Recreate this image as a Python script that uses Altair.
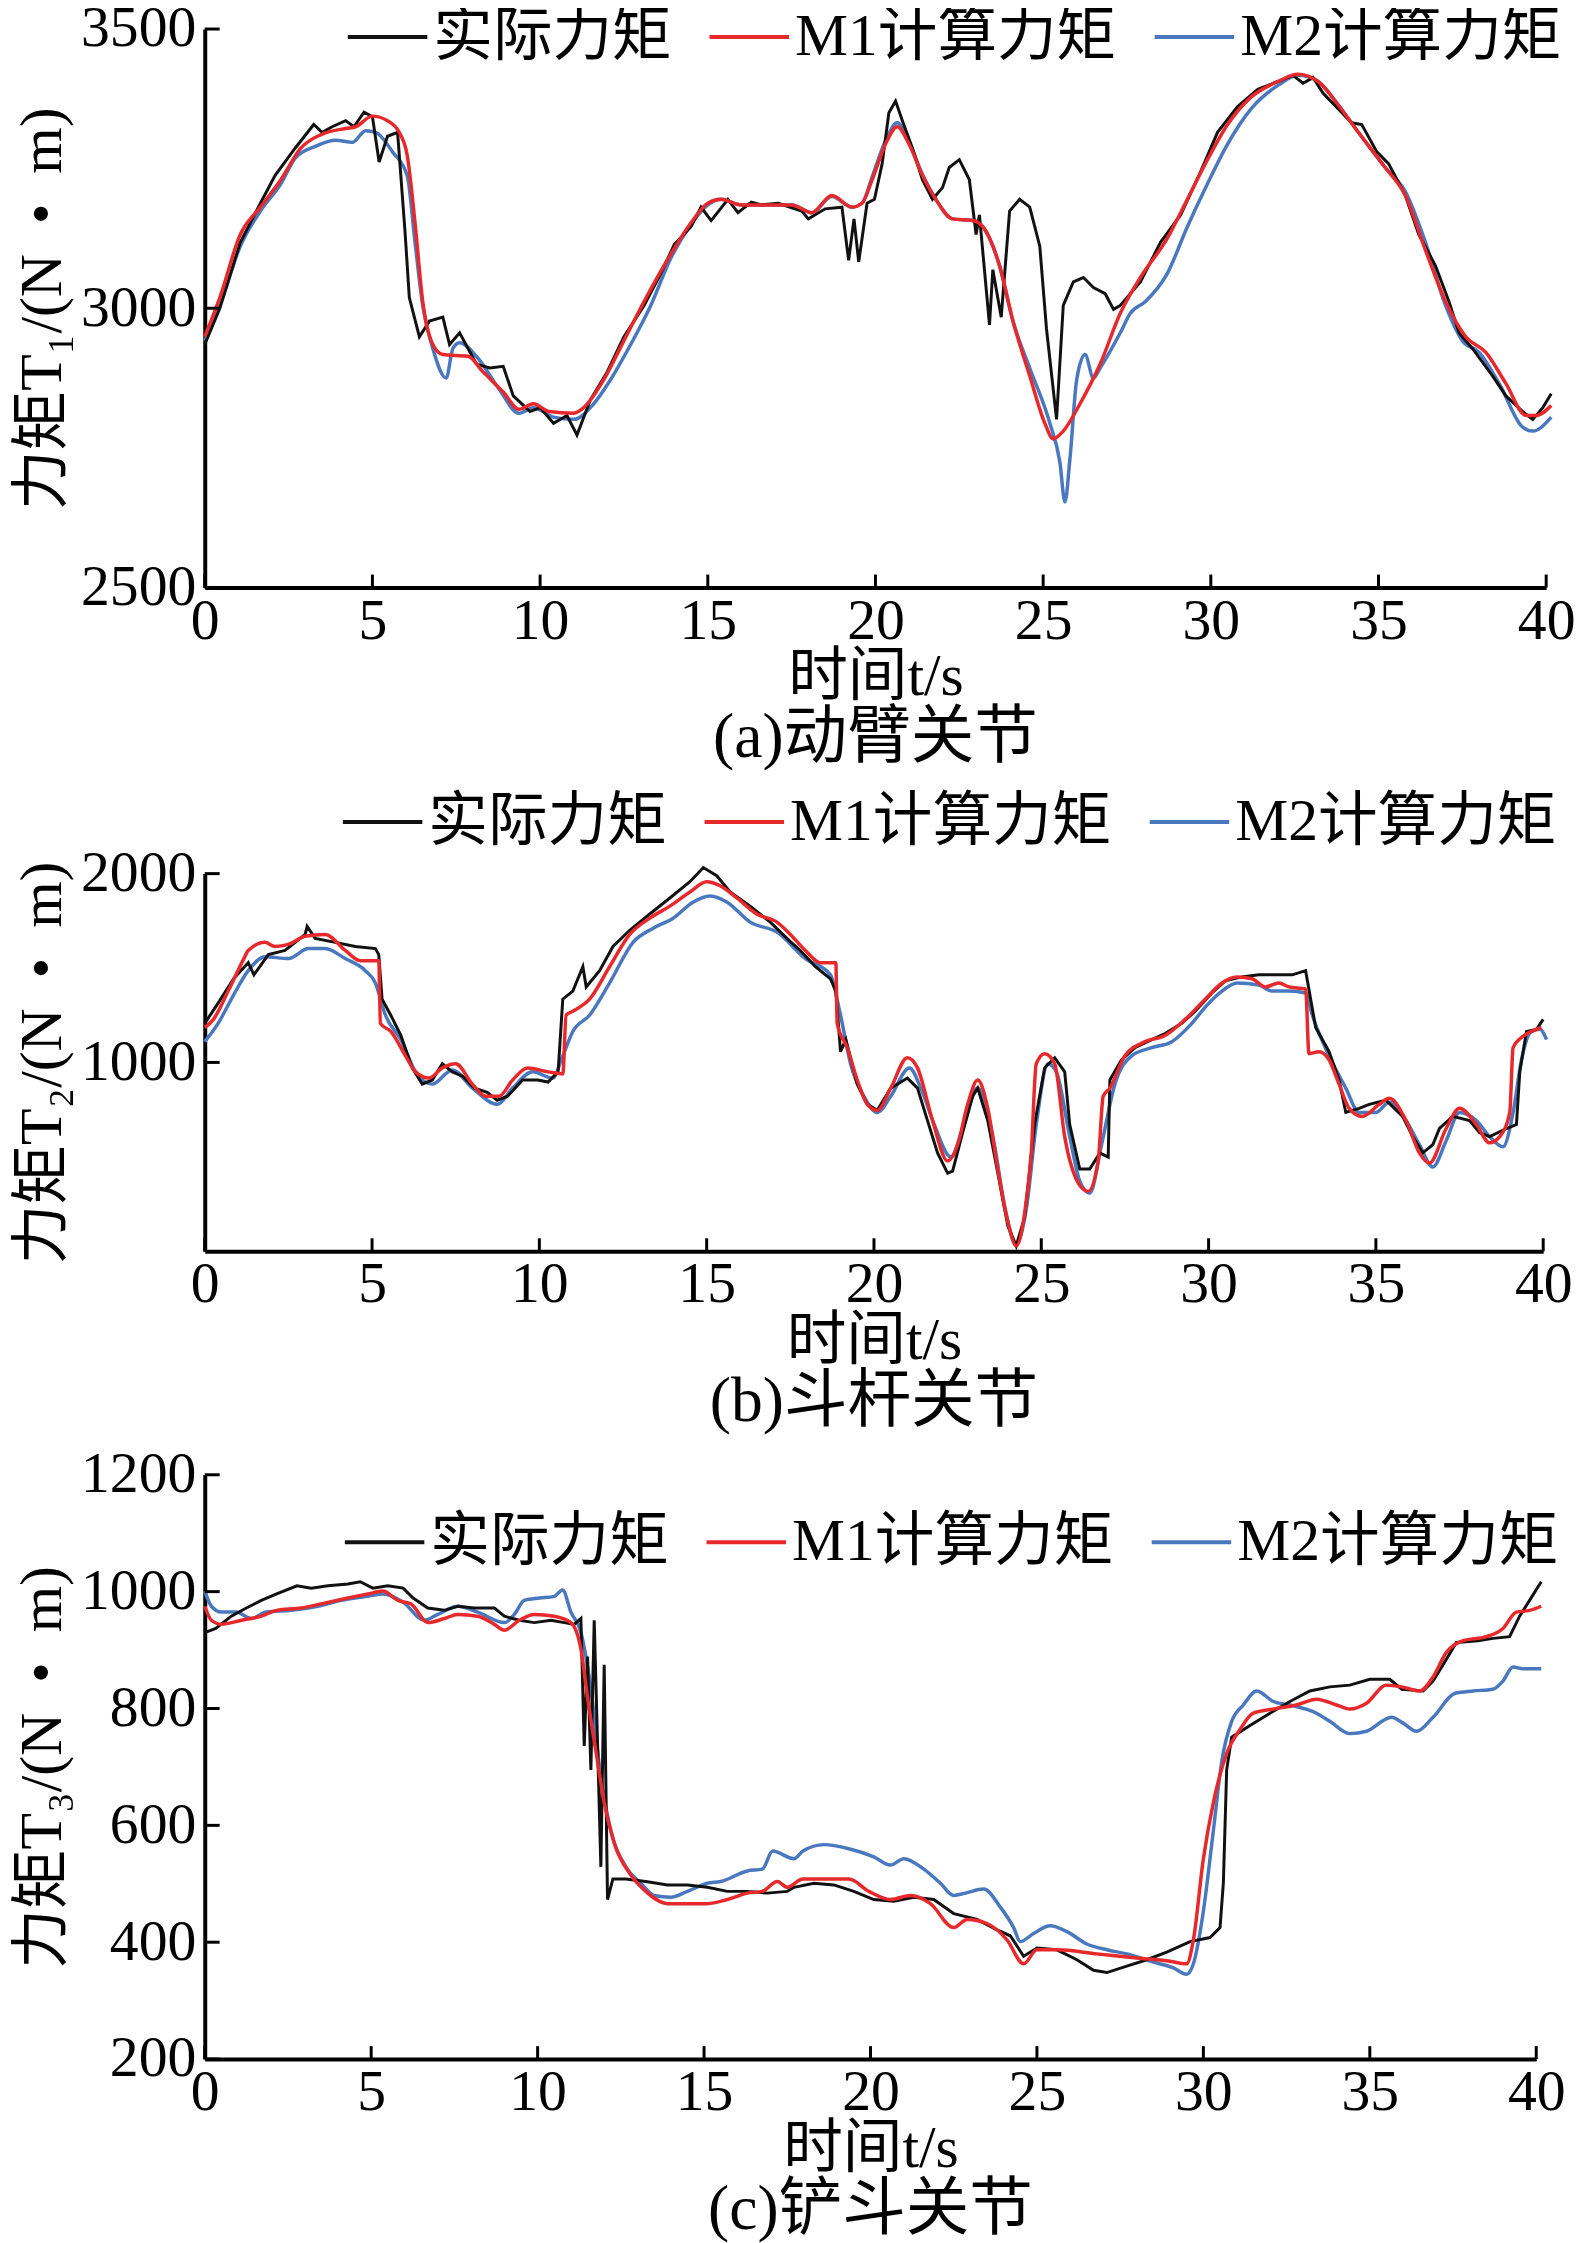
import altair as alt
import pandas as pd

FONT = "Liberation Serif, Noto Sans CJK SC"
NAMES = ["实际力矩", "M1计算力矩", "M2计算力矩"]
COLORS = ["#111111", "#e8292c", "#4a78bf"]
XTICKS = [0, 5, 10, 15, 20, 25, 30, 35, 40]

# ---------------- panel (a) 动臂关节 ----------------
a_act_t = [0.0, 0.45, 1.06, 1.66, 2.1, 2.7, 3.25, 3.5, 3.8, 4.2, 4.45, 4.75, 5.0, 5.2, 5.45, 5.75, 5.97,
           6.1, 6.4, 6.7, 7.1, 7.3, 7.6, 8.1, 8.5, 8.9, 9.2, 9.7, 10.0, 10.4, 10.8, 11.1, 11.5, 12.0,
           12.5, 13.1, 13.6, 14.0, 14.5, 14.8, 15.1, 15.6, 15.9, 16.3, 16.6, 17.1, 17.8, 18.0, 18.5,
           19.0, 19.2, 19.36, 19.5, 19.75, 19.97, 20.2, 20.4, 20.6, 20.8, 21.1, 21.4, 21.7, 22.0, 22.2,
           22.5, 22.8, 23.0, 23.1, 23.4, 23.5, 23.75, 24.0, 24.3, 24.6, 24.9, 25.1, 25.4, 25.6, 25.9,
           26.2, 26.5, 26.85, 27.1, 27.3, 27.9, 28.5, 29.1, 29.7, 30.2, 30.8, 31.4, 32.0, 32.45, 32.75,
           33.05, 33.35, 33.8, 34.2, 34.5, 34.95, 35.3, 35.8, 36.2, 36.7, 37.1, 37.4, 37.8, 38.4, 38.8,
           39.3, 39.6, 39.9, 40.15]
a_act_v = [2935, 3000, 3118, 3188, 3238, 3287, 3329, 3315, 3325, 3336, 3325, 3351, 3343, 3262, 3308, 3315, 3139,
           3019, 2949, 2977, 2984, 2935, 2956, 2900, 2893, 2896, 2843, 2815, 2822, 2794, 2808, 2773, 2836, 2886,
           2949, 3005, 3062, 3114, 3146, 3181, 3157, 3195, 3171, 3190, 3185, 3188, 3174, 3160, 3178,
           3181, 3086, 3160, 3083, 3188, 3195, 3259, 3350, 3371, 3336, 3287, 3230, 3195, 3216, 3252,
           3266, 3230, 3132, 3167, 2970, 3069, 2984, 3174, 3195, 3181, 3111, 2963, 2801, 3005, 3047,
           3055, 3037, 3026, 2998, 3005, 3047, 3118, 3167, 3245, 3315, 3361, 3392, 3406, 3417, 3403,
           3413, 3385, 3357, 3332, 3329, 3280, 3259, 3202, 3132, 3076, 3012, 2956, 2928, 2879, 2843,
           2815, 2801, 2822, 2847]

a_m1_t = [0.0, 0.45, 1.06, 1.66, 2.27, 2.87, 3.47, 4.2, 4.5, 5.0, 5.44, 5.8, 6.04, 6.27, 6.5, 6.8, 7.1,
          7.85, 8.3, 8.9, 9.37, 9.8, 10.27, 11.0, 11.3, 11.9, 12.5, 13.1, 13.9, 14.5, 15.0, 15.4, 16.0,
          17.1, 17.5, 18.1, 18.7, 19.3, 19.6, 19.9, 20.3, 20.65, 21.0, 21.4, 21.8, 22.3, 22.9, 23.2,
          23.7, 24.1, 24.6, 25.05, 25.3, 25.6, 26.1, 26.7, 27.3, 27.9, 28.7, 29.3, 29.9, 30.5, 31.2,
          32.0, 32.6, 33.2, 33.8, 34.4, 35.2, 35.8, 36.4, 37.0, 37.6, 38.2, 38.8, 39.4, 39.7, 40.15]
a_m1_v = [2949, 3019, 3132, 3181, 3230, 3287, 3311, 3322, 3325, 3344, 3336, 3315, 3273, 3153, 3012, 2935, 2917,
          2914, 2886, 2850, 2819, 2829, 2815, 2812, 2822, 2872, 2942, 3012, 3097, 3153, 3188, 3195, 3185,
          3185, 3185, 3171, 3202, 3181, 3188, 3230, 3294, 3325, 3294, 3238, 3195, 3160, 3157, 3146,
          3076, 2977, 2879, 2794, 2766, 2780, 2829, 2900, 2991, 3055, 3125, 3195, 3266, 3329, 3378,
          3406, 3419, 3406, 3364, 3315, 3252, 3202, 3104, 3012, 2949, 2921, 2865, 2808, 2808, 2826]

a_m2_t = [0.0, 0.45, 1.06, 1.66, 2.27, 2.7, 3.3, 3.9, 4.4, 4.8, 5.1, 5.6, 6.04, 6.27, 6.5, 6.8, 7.2,
          7.4, 7.6, 8.1, 8.76, 9.37, 9.8, 10.4, 11.0, 11.6, 12.1, 12.7, 13.3, 13.9, 14.5, 15.0, 15.4,
          16.0, 17.1, 17.5, 18.1, 18.7, 19.3, 19.6, 19.9, 20.3, 20.65, 21.0, 21.4, 21.8, 22.3, 22.9,
          23.2, 23.7, 24.1, 24.6, 25.2, 25.5, 25.65, 25.8, 26.0, 26.25, 26.5, 26.7, 27.3, 27.6, 28.05,
          28.7, 29.3, 29.9, 30.5, 31.2, 32.0, 32.6, 33.2, 33.8, 34.4, 35.2, 35.8, 36.4, 37.0, 37.5,
          38.0, 38.6, 39.3, 39.6, 40.15]
a_m2_v = [2942, 3005, 3111, 3174, 3223, 3269, 3290, 3301, 3297, 3318, 3315, 3280, 3237, 3118, 3005, 2928, 2875,
          2928, 2938, 2914, 2857, 2812, 2822, 2805, 2801, 2829, 2872, 2935, 3005, 3090, 3150, 3185, 3195,
          3185, 3185, 3185, 3171, 3200, 3181, 3188, 3235, 3300, 3332, 3298, 3240, 3195, 3160, 3157,
          3146, 3076, 2977, 2893, 2794, 2724, 2653, 2731, 2872, 2917, 2875, 2893, 2956, 2991, 3012,
          3062, 3146, 3223, 3294, 3357, 3399, 3417, 3406, 3364, 3315, 3252, 3209, 3118, 3005, 2942,
          2921, 2865, 2787, 2780, 2805]

# ---------------- panel (b) 斗杆关节 ----------------
b_act_t = [0.0, 0.4, 0.86, 1.3, 1.47, 1.9, 2.4, 3.0, 3.06, 3.3, 3.9, 4.5, 5.1, 5.2, 5.3, 5.56, 5.86, 6.2,
           6.5, 6.8, 7.1, 7.4, 7.7, 8.06, 8.44, 8.74, 9.05, 9.5, 9.95, 10.26, 10.56, 10.7, 11.0, 11.3,
           11.4, 11.8, 12.2, 12.7, 13.3, 13.9, 14.5, 14.9, 15.3, 15.7, 16.3, 16.9, 17.5, 17.8, 18.25,
           18.7, 18.86, 19.0, 19.16, 19.5, 19.8, 20.1, 20.5, 21.0, 21.3, 21.6, 21.9, 22.2, 22.35, 22.65,
           22.95, 23.1, 23.4, 23.7, 24.0, 24.25, 24.5, 24.8, 25.1, 25.4, 25.7, 25.85, 26.15, 26.45,
           26.75, 27.0, 27.05, 27.4, 27.8, 28.3, 28.7, 29.2, 29.6, 30.1, 30.5, 31.0, 31.5, 31.9, 32.5,
           32.9, 33.05, 33.2, 33.6, 33.9, 34.1, 34.5, 34.8, 35.3, 35.8, 36.1, 36.4, 36.7, 36.9, 37.3,
           37.8, 38.1, 38.4, 38.9, 39.2, 39.3, 39.5, 39.8, 40.0]
b_act_v = [1207, 1314, 1443, 1528, 1464, 1571, 1593, 1678, 1721, 1657, 1636, 1614, 1603, 1571, 1335, 1250, 1143, 971,
           885, 907, 993, 950, 928, 864, 842, 800, 821, 907, 907, 896, 950, 1335, 1378, 1507,
           1400, 1486, 1614, 1700, 1786, 1871, 1957, 2032, 1989, 1903, 1828, 1743, 1640, 1593, 1507,
           1443, 1378, 1057, 1121, 885, 778, 746, 864, 917, 864, 692, 521, 414, 424, 628,
           821, 864, 692, 414, 135, 28, 178, 671, 971, 1025, 950, 671, 435, 435,
           521, 499, 907, 1014, 1078, 1121, 1153, 1207, 1271, 1368, 1432, 1453, 1464, 1464, 1464,
           1486, 1335, 1185, 1057, 907, 735, 757, 778, 800, 714, 607, 521, 564, 650, 714,
           692, 628, 607, 650, 671, 950, 1164, 1175, 1228]

b_m1_t = [0.0, 0.26, 0.7, 1.17, 1.3, 1.8, 2.1, 2.5, 3.0, 3.6, 4.2, 4.65, 5.2, 5.25, 5.56, 6.0, 6.3, 6.7,
          7.1, 7.5, 8.0, 8.4, 8.8, 9.2, 9.65, 10.26, 10.7, 10.8, 11.0, 11.5, 12.1, 12.7, 13.3, 13.9,
          14.5, 15.0, 15.4, 15.9, 16.5, 17.1, 17.5, 17.95, 18.4, 18.86, 18.9, 19.2, 19.5, 19.8, 20.1,
          20.5, 21.0, 21.3, 21.75, 22.2, 22.5, 22.8, 23.1, 23.4, 23.7, 24.0, 24.25, 24.5, 24.7, 24.85,
          25.1, 25.4, 25.7, 26.15, 26.4, 26.7, 26.85, 27.05, 27.5, 28.1, 28.7, 29.3, 29.9, 30.4, 30.85,
          31.3, 31.7, 32.1, 32.4, 32.9, 33.0, 33.3, 33.6, 33.9, 34.2, 34.6, 35.1, 35.4, 35.9, 36.3,
          36.6, 37.1, 37.5, 38.0, 38.4, 38.7, 39.0, 39.1, 39.35, 39.65, 39.95]
b_m1_v = [1185, 1228, 1378, 1550, 1593, 1636, 1614, 1625, 1668, 1678, 1593, 1539, 1539, 1207, 1164, 1035, 950, 917,
          971, 993, 885, 821, 821, 907, 971, 950, 939, 1250, 1271, 1335, 1507, 1678, 1764, 1828,
          1903, 1957, 1936, 1871, 1786, 1743, 1678, 1593, 1528, 1528, 1207, 1078, 907, 778, 746,
          864, 1025, 971, 692, 478, 564, 778, 907, 757, 435, 156, 28, 199, 521, 993,
          1046, 993, 607, 349, 317, 478, 821, 864, 1035, 1110, 1143, 1228, 1335, 1421, 1453,
          1443, 1400, 1421, 1400, 1389, 1046, 1057, 1014, 885, 757, 714, 778, 810, 692, 521,
          467, 650, 757, 671, 574, 607, 735, 1078, 1132, 1164, 1185]

b_m2_t = [0.0, 0.4, 0.86, 1.3, 1.8, 2.5, 3.1, 3.6, 4.2, 4.8, 5.1, 5.4, 5.86, 6.3, 6.8, 7.4, 8.0, 8.74,
          9.2, 9.8, 10.4, 10.7, 11.0, 11.5, 12.1, 12.8, 13.4, 14.0, 14.6, 15.1, 15.6, 16.3, 17.1, 17.95,
          18.7, 19.0, 19.3, 19.7, 20.1, 20.5, 21.06, 21.4, 21.8, 22.3, 22.65, 23.1, 23.6, 23.9, 24.25,
          24.55, 24.85, 25.2, 25.45, 25.85, 26.15, 26.45, 26.8, 27.2, 27.7, 28.3, 28.9, 29.5, 29.9,
          30.4, 30.85, 31.5, 31.9, 32.4, 32.9, 33.1, 33.6, 34.1, 34.5, 35.0, 35.4, 35.9, 36.3, 36.7,
          37.1, 37.5, 38.0, 38.4, 38.8, 39.1, 39.35, 39.65, 39.9, 40.1]
b_m2_v = [1110, 1207, 1357, 1486, 1560, 1550, 1603, 1603, 1550, 1486, 1421, 1250, 1121, 950, 885, 960, 864, 778,
          864, 950, 917, 1035, 1164, 1250, 1421, 1636, 1711, 1764, 1850, 1882, 1850, 1743, 1690, 1550,
          1464, 1250, 993, 821, 735, 821, 971, 864, 671, 499, 650, 864, 564, 242, 39,
          221, 671, 993, 950, 607, 371, 307, 564, 885, 1035, 1078, 1110, 1207, 1293,
          1378, 1421, 1410, 1378, 1378, 1368, 1250, 1035, 864, 735, 735, 789, 692, 564, 446,
          585, 735, 692, 607, 553, 735, 1014, 1164, 1175, 1121]

# ---------------- panel (c) 铲斗关节 ----------------
c_act_t = [0.0, 0.33, 0.8, 1.25, 1.7, 2.16, 2.77, 3.2, 3.7, 4.3, 4.67, 5.05, 5.5, 5.96, 6.26, 6.7, 7.2, 7.6,
           8.1, 8.7, 9.0, 9.45, 9.9, 10.4, 10.8, 11.1, 11.3, 11.4, 11.5, 11.6, 11.7, 11.9, 12.0, 12.1,
           12.26, 12.65, 13.25, 13.9, 14.5, 15.1, 15.7, 16.3, 16.9, 17.5, 17.7, 18.3, 18.9, 19.5, 20.1,
           20.7, 21.3, 21.9, 22.5, 23.2, 23.8, 24.2, 24.6, 25.0, 25.6, 26.2, 26.7, 27.1, 27.7, 28.3,
           28.9, 29.6, 30.2, 30.5, 30.6, 30.7, 30.85, 31.4, 32.0, 32.6, 33.2, 33.8, 34.4, 35.0, 35.6,
           35.96, 36.6, 36.9, 37.2, 37.6, 38.25, 38.7, 39.2, 39.5, 39.8, 40.15]
c_act_v = [930, 937, 958, 972, 985, 996, 1010, 1006, 1010, 1013, 1017, 1006, 1010, 1006, 989, 972, 968, 975,
           972, 972, 958, 951, 947, 951, 947, 944, 954, 736, 889, 695, 951, 529, 875, 473,
           508, 508, 504, 498, 498, 494, 487, 487, 484, 487, 494, 501, 498, 487, 473,
           470, 477, 473, 449, 439, 421, 411, 376, 390, 387, 370, 352, 348, 359, 370,
           383, 401, 408, 425, 501, 695, 751, 771, 792, 812, 830, 837, 840, 850, 850,
           833, 830, 847, 875, 913, 916, 920, 923, 958, 985, 1017]

c_m1_t = [0.0, 0.2, 0.5, 1.1, 1.7, 2.16, 2.9, 3.5, 4.3, 4.9, 5.35, 5.8, 6.2, 6.7, 7.2, 7.6, 8.2, 8.7,
          9.0, 9.45, 9.9, 10.5, 11.0, 11.3, 11.5, 11.8, 12.0, 12.3, 12.8, 13.25, 13.9, 14.5, 15.1,
          15.7, 16.3, 16.75, 17.2, 17.5, 17.97, 18.6, 19.35, 19.95, 20.6, 21.2, 21.8, 22.5, 22.9, 23.5,
          24.1, 24.6, 25.0, 25.6, 26.8, 28.0, 28.95, 29.5, 29.7, 30.0, 30.3, 30.7, 31.1, 31.5, 32.1,
          32.8, 33.4, 34.0, 34.4, 34.9, 35.5, 35.96, 36.5, 36.9, 37.3, 37.8, 38.5, 39.0, 39.4, 39.8,
          40.15]
c_m1_v = [975, 951, 944, 951, 958, 968, 972, 979, 989, 996, 1001, 985, 979, 947, 954, 961, 958, 944,
          934, 951, 961, 958, 947, 902, 819, 709, 639, 570, 515, 487, 466, 466, 466,
          473, 484, 487, 504, 494, 508, 508, 508, 487, 473, 480, 466, 425, 439, 432,
          404, 363, 387, 387, 380, 373, 368, 363, 404, 543, 639, 723, 764, 792, 799,
          806, 816, 806, 799, 809, 840, 837, 830, 854, 896, 916, 923, 937, 965, 968,
          975]

c_m2_t = [0.0, 0.2, 0.5, 0.94, 1.4, 1.85, 2.6, 3.4, 4.1, 4.9, 5.35, 5.96, 6.6, 7.0, 7.6, 8.2, 9.0, 9.3,
          9.6, 10.06, 10.5, 10.75, 11.0, 11.3, 11.6, 11.9, 12.2, 12.65, 13.1, 13.5, 14.0, 14.5, 15.1,
          15.5, 16.3, 16.75, 17.06, 17.7, 17.97, 18.6, 19.35, 20.1, 20.6, 21.0, 21.6, 22.1, 22.5, 22.85,
          23.4, 23.9, 24.3, 24.5, 24.9, 25.4, 25.9, 26.5, 27.1, 27.7, 28.5, 29.1, 29.5, 29.7, 30.0,
          30.3, 30.55, 30.85, 31.2, 31.6, 32.1, 32.6, 33.4, 33.8, 34.4, 34.9, 35.65, 36.0, 36.4, 36.9,
          37.56, 38.1, 38.7, 39.0, 39.3, 39.6, 40.15]
c_m2_v = [1001, 975, 965, 965, 954, 965, 968, 975, 985, 992, 996, 982, 951, 961, 975, 965, 947, 961,
          985, 989, 992, 1003, 965, 930, 833, 681, 591, 529, 501, 480, 477, 487, 501,
          504, 522, 525, 556, 543, 556, 567, 560, 546, 532, 543, 525, 501, 480, 484,
          491, 460, 425, 401, 415, 428, 418, 397, 387, 380, 366, 356, 345, 363, 453,
          591, 709, 778, 806, 830, 812, 806, 792, 778, 757, 761, 785, 775, 761, 785,
          826, 830, 833, 847, 871, 868, 868]


def frame(series):
    rows = []
    for name, (ts, vs) in zip(NAMES, series):
        for t, v in zip(ts, vs):
            rows.append({"t": t, "v": v, "s": name})
    return pd.DataFrame(rows)


def axis_common():
    return dict(grid=False, domainColor="black", domainWidth=4, labelColor="black",
                titleColor="black", labelFont=FONT, titleFont=FONT, titleFontWeight="normal",
                labelFontWeight="normal", labelFontSize=58, titleFontSize=60, tickSize=0,
                format="d")


def panel(series, ydomain, yticks, ytitle, caption, width, height, legx, legy):
    df = frame(series)
    xenc = alt.X("t:Q", scale=alt.Scale(domain=[0, 40], nice=False, zero=False),
                 axis=alt.Axis(values=XTICKS, labelPadding=5, titlePadding=-2,
                               title="时间t/s", labelFlush=False, **axis_common()))
    yenc = alt.Y("v:Q", scale=alt.Scale(domain=ydomain, nice=False, zero=False),
                 axis=alt.Axis(values=yticks, labelPadding=9, titlePadding=7,
                               title=ytitle, **axis_common()))
    color = alt.Color("s:N", scale=alt.Scale(domain=NAMES, range=COLORS),
                      legend=alt.Legend(title=None, orient="none", legendX=legx, legendY=legy,
                                        direction="horizontal", columns=3,
                                        symbolType="stroke", symbolSize=6400,
                                        symbolStrokeWidth=4, labelFontSize=60, labelFont=FONT,
                                        labelOffset=4, columnPadding=30, padding=0,
                                        labelLimit=0, labelColor="black"))
    layers = []
    for name, sw, interp in [(NAMES[2], 3.5, "monotone"), (NAMES[0], 3, "linear"),
                             (NAMES[1], 3.5, "monotone")]:
        layers.append(
            alt.Chart(df[df.s == name]).mark_line(strokeWidth=sw, clip=False, interpolate=interp)
            .encode(x=xenc, y=yenc, color=color, order="t:Q")
        )
    xt = pd.DataFrame({"t": XTICKS})
    yt = pd.DataFrame({"v": yticks})
    layers.append(alt.Chart(xt).mark_rule(color="black", strokeWidth=3)
                  .encode(x=xenc, y=alt.value(height), y2=alt.value(height - 13)))
    layers.append(alt.Chart(yt).mark_rule(color="black", strokeWidth=3)
                  .encode(y=yenc, x=alt.value(0), x2=alt.value(15)))
    return alt.layer(*layers).properties(
        width=width, height=height,
        title=alt.TitleParams(text=caption, orient="bottom", fontSize=64, font=FONT,
                              fontWeight="normal", offset=0, anchor="middle", frame="group",
                              color="black"))


UNIT = "/(N\u2002\u2022\u2002m)"
pa = panel([(a_act_t, a_act_v), (a_m1_t, a_m1_v), (a_m2_t, a_m2_v)], [2500, 3500],
           [2500, 3000, 3500], "力矩T₁" + UNIT, "(a)动臂关节", 1350, 562, 142, -34)
pb = panel([(b_act_t, b_act_v), (b_m1_t, b_m1_v), (b_m2_t, b_m2_v)], [0, 2000],
           [1000, 2000], "力矩T₂" + UNIT, "(b)斗杆关节", 1347, 380, 137, -94)
pc = panel([(c_act_t, c_act_v), (c_m1_t, c_m1_v), (c_m2_t, c_m2_v)], [200, 1200],
           [200, 400, 600, 800, 1000, 1200], "力矩T₃" + UNIT, "(c)铲斗关节", 1340, 588, 139, 26)

top = alt.vconcat(pa, pb, spacing=10).resolve_scale(color="independent").resolve_legend(color="independent")
chart = alt.vconcat(top, pc, spacing=12).resolve_scale(color="independent").resolve_legend(color="independent")

chart = chart.properties(
    padding={"left": 5, "top": -20, "right": 0, "bottom": 0}, background="white"
).configure_view(stroke=None).configure_axis(grid=False)

chart.save("out.html", embed_options={"renderer": "svg", "actions": False})
